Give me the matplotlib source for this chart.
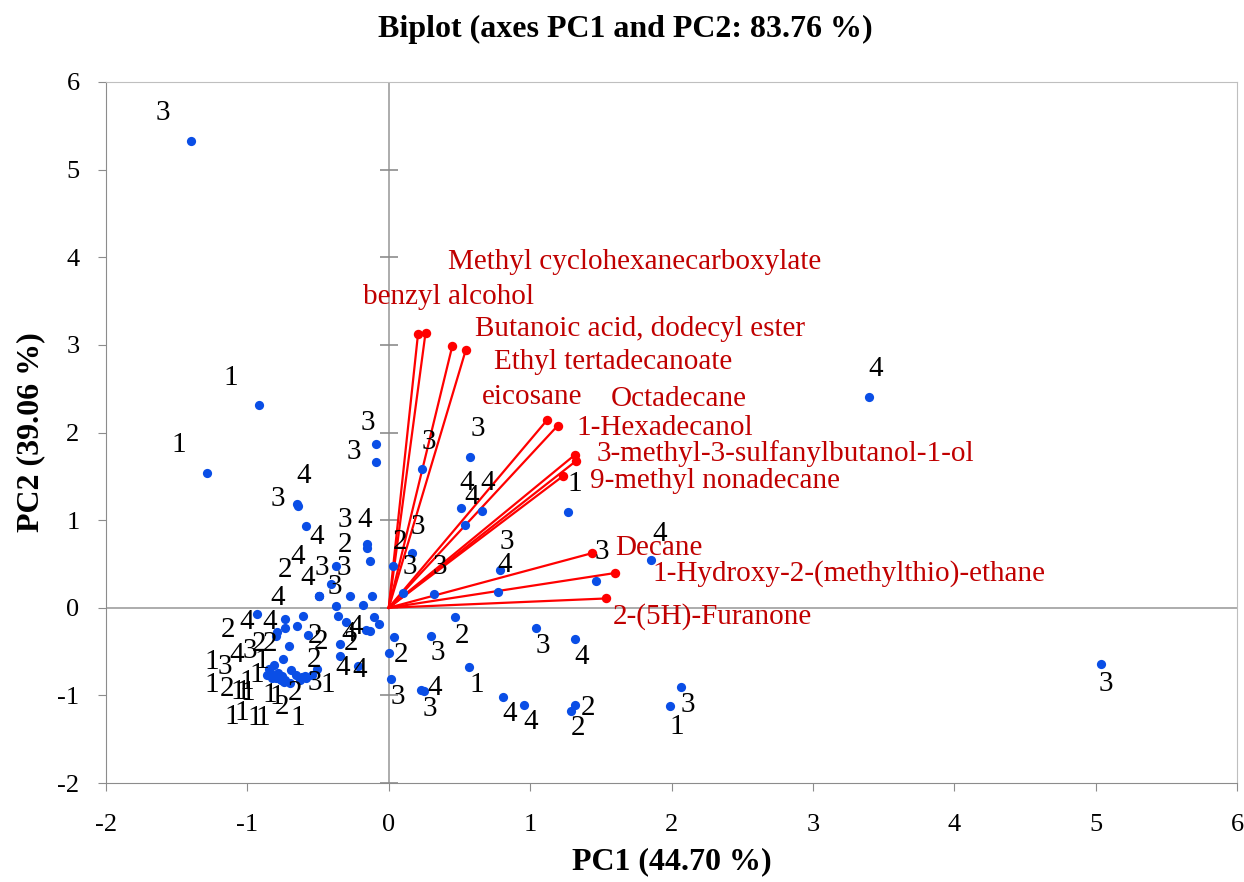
import matplotlib
matplotlib.use("Agg")
import matplotlib.pyplot as plt

plt.rcParams['font.family'] = ['Liberation Serif', 'DejaVu Serif']
plt.rcParams['axes.unicode_minus'] = False

# observations (PC1, PC2) with class label
pc1 = [-1.400, -0.919, -1.287, -0.651, -0.644, -0.583, -0.375, -0.410, -0.495, -0.495,
       -0.495, -0.276, -0.087, -0.087, 0.238, 0.578, 0.509, 0.658, 0.542, 1.268,
       -0.156, -0.151, -0.134, 0.030, 0.161, 0.101, 0.320, 0.790, 0.773, 1.464,
       1.858, 3.395, 0.467, 1.045, 1.315, 0.302, 0.037, 0.000, 0.019, 0.231,
       0.248, 0.566, 0.808, 0.955, 1.315, 1.292, 2.070, 1.992, 5.035, -0.359,
       -0.299, -0.342, -0.347, -0.221, -0.104, -0.069, -0.158, -0.134, -0.606, -0.571,
       -0.511, -0.375, -0.179, -0.118, -0.934, -0.736, -0.731, -0.649, -0.790, -0.794,
       -0.705, -0.745, -0.815, -0.849, -0.858, -0.825, -0.783, -0.794, -0.759, -0.755,
       -0.731, -0.700, -0.688, -0.653, -0.617, -0.594, -0.842, -0.813, -0.771, -0.743,
       -0.629, -0.587, -0.545]
pc2 = [5.331, 2.317, 1.541, 1.187, 1.164, 0.936, 0.479, 0.274, 0.137, 0.137,
       0.137, 0.137, 1.872, 1.667, 1.587, 1.724, 1.142, 1.107, 0.939, 1.088,
       0.731, 0.682, 0.537, 0.479, 0.624, 0.168, 0.160, 0.434, 0.179, 0.300,
       0.540, 2.401, -0.111, -0.236, -0.357, -0.320, -0.331, -0.519, -0.814, -0.936,
       -0.955, -0.677, -1.024, -1.115, -1.107, -1.176, -0.905, -1.119, -0.639, -0.091,
       -0.168, -0.411, -0.545, -0.662, -0.111, -0.183, -0.259, -0.271, -0.099, -0.308,
       -0.700, 0.023, 0.031, 0.129, -0.068, -0.129, -0.236, -0.213, -0.274, -0.328,
       -0.442, -0.582, -0.659, -0.700, -0.765, -0.803, -0.745, -0.803, -0.830, -0.776,
       -0.830, -0.860, -0.708, -0.765, -0.791, -0.776, -0.731, -0.776, -0.799, -0.845,
       -0.822, -0.799, -0.765]
obs_class = ['3', '1', '1', '3', '4', '4', '3', '3', '4', '2',
             '4', '3', '3', '3', '3', '3', '4', '4', '4', '1',
             '3', '4', '2', '2', '3', '3', '3', '3', '4', '3',
             '4', '4', '2', '3', '4', '3', '2', '', '3', '4',
             '3', '1', '4', '4', '2', '2', '3', '1', '3', '4',
             '4', '2', '4', '4', '', '', '', '', '2', '2',
             '2', '', '', '', '4', '4', '4', '2', '2', '2',
             '3', '4', '1', '3', '1', '1', '1', '1', '2', '1',
             '1', '1', '1', '1', '2', '2', '1', '1', '1', '1',
             '1', '3', '1']
# label offsets from the point, in pixels (right, up)
lab_dx = [-28, -28, -28, -19, 6, 10, -14, 4, -11, -34,
          -21, -6, -9, -23, 6, 7, 6, 6, 6, 7,
          -22, -3, -25, 7, 6, 7, 6, 6, 7, 6,
          8, 7, 7, 6, 7, 6, 7, 0, 6, 13,
          6, 8, 7, 7, 13, 7, 6, 6, 5, 18,
          2, 11, 3, 2, 0, 0, 0, 0, 12, 13,
          -3, 0, 0, 0, -10, -7, -16, -27, -49, -17,
          -39, -47, -12, -44, -56, -15, -31, -65, -54, -44,
          -43, -42, -22, -20, -20, -10, -38, -32, -25, -21,
          -2, 9, 16]
lab_dy = [28, 27, 28, 5, 30, -11, -2, -3, 18, 26,
          39, 28, 21, 10, 27, 28, 25, 28, 28, 28,
          24, 28, 16, 24, 26, 26, 27, 28, 27, 29,
          26, 28, -19, -18, -18, -17, -18, 0, -18, 2,
          -18, -18, -17, -17, -3, -17, -18, -21, -20, -11,
          -12, 1, -12, -4, 0, 0, 0, 0, -20, -7,
          9, 0, 0, 0, -8, 21, 6, -18, 2, -8,
          -5, 4, 4, 2, 13, 3, -9, -7, -9, -16,
          -12, -10, -25, -22, -30, -17, -45, -37, -40, -36,
          -38, -5, -10]

# variables (loadings scaled to the biplot)
var_names = ['benzyl alcohol', 'Methyl cyclohexanecarboxylate', 'Butanoic acid, dodecyl ester',
             'Ethyl tertadecanoate', 'eicosane', '1-Hexadecanol', 'Octadecane',
             '3-methyl-3-sulfanylbutanol-1-ol', '9-methyl nonadecane', 'Decane',
             '1-Hydroxy-2-(methylthio)-ethane', '2-(5H)-Furanone']
var_x = [0.207, 0.260, 0.450, 0.545, 1.122, 1.195, 1.318, 1.321, 1.236, 1.440, 1.599, 1.537]
var_y = [3.124, 3.136, 2.991, 2.942, 2.146, 2.078, 1.747, 1.670, 1.507, 0.624, 0.396, 0.106]
var_dx = [-55, 22, 23, 28, -65, 19, 36, 21, 27, 23, 38, 7]
var_dy = [37, 71, 17, -12, 23, -2, 56, 8, -5, 5, 0, -18]

px2pt = 72 / 100

fig = plt.figure(figsize=(12.44, 8.82), dpi=100)
ax = fig.add_axes([106 / 1244, 1 - 783 / 882, (1237 - 106) / 1244, (783 - 82) / 882])

# centre axes, the vertical one with crossing ticks
ax.axhline(0, color='#a6a6a6', lw=1.3, zorder=1)
ax.axvline(0, color='#a6a6a6', lw=1.3, zorder=1)
ax.plot([0] * 9, range(-2, 7), ls='none', marker='_', ms=13, mew=1.2, color='#8c8c8c', zorder=1)

# observations
ax.scatter(pc1, pc2, s=44, color='#0a4ee6', zorder=3, linewidths=0)
for x, y, t, dx, dy in zip(pc1, pc2, obs_class, lab_dx, lab_dy):
    if t:
        ax.annotate(t, (x, y), xytext=(dx * px2pt, dy * px2pt), textcoords='offset points',
                    ha='center', va='center', fontsize=21, color='black', zorder=4)

# variables
for x, y in zip(var_x, var_y):
    ax.plot([0, x], [0, y], color='#ff0000', lw=1.6, zorder=2)
ax.scatter(var_x, var_y, s=46, color='#ff0000', zorder=3, linewidths=0)
for name, x, y, dx, dy in zip(var_names, var_x, var_y, var_dx, var_dy):
    ax.annotate(name, (x, y), xytext=(dx * px2pt, dy * px2pt), textcoords='offset points',
                ha='left', va='center', fontsize=21, color='#c00000', zorder=4)

ax.set_xlim(-2, 6)
ax.set_ylim(-2, 6)
ax.set_xticks(range(-2, 7))
ax.set_yticks(range(-2, 7))
ax.tick_params(labelsize=19, length=6, color='#8c8c8c')
ax.tick_params(axis='x', pad=16)
ax.tick_params(axis='y', pad=13)
for s in ax.spines.values():
    s.set_color('#bfbfbf')
ax.spines['left'].set_color('#8c8c8c')
ax.spines['bottom'].set_color('#8c8c8c')

fig.text(0.503, 1 - 29 / 882, 'Biplot (axes PC1 and PC2: 83.76 %)', ha='center', va='center',
         fontsize=23, fontweight='bold')
fig.text(672 / 1244, 1 - 862 / 882, 'PC1 (44.70 %)', ha='center', va='center',
         fontsize=23, fontweight='bold')
fig.text(31 / 1244, 1 - 432 / 882, 'PC2 (39.06 %)', ha='center', va='center',
         fontsize=23, fontweight='bold', rotation=90)

fig.savefig('out.png', dpi=100)
